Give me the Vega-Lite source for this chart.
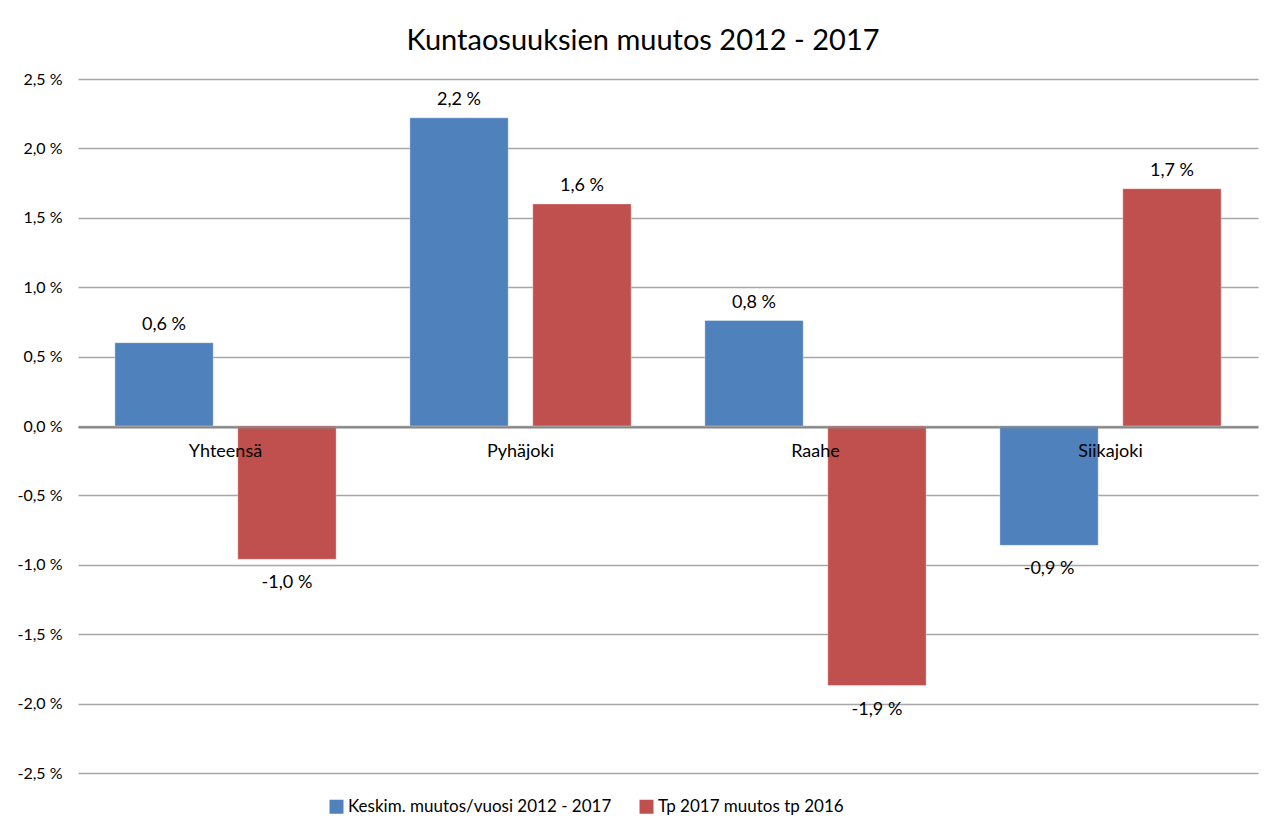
{
  "$schema": "https://vega.github.io/schema/vega-lite/v6.json",
  "width": 1180,
  "height": 694,
  "autosize": {"type": "none"},
  "padding": {"left": 78, "top": 79, "right": 22, "bottom": 61},
  "background": "white",
  "config": {
    "locale": {"number": {"decimal": ",", "thousands": " ", "grouping": [3], "currency": ["", " €"], "percent": " %", "minus": "-"}},
    "view": {"stroke": null},
    "font": "Lato"
  },
  "title": {
    "text": "Kuntaosuuksien muutos 2012 - 2017",
    "font": "Lato",
    "fontSize": 29,
    "fontWeight": "normal",
    "color": "#000000",
    "anchor": "middle",
    "offset": 15,
    "dx": -25
  },
  "data": {
    "values": [
      {"kunta": "Yhteensä", "sarja": "Keskim. muutos/vuosi 2012 - 2017", "arvo": 0.0060},
      {"kunta": "Yhteensä", "sarja": "Tp 2017 muutos tp 2016", "arvo": -0.0096},
      {"kunta": "Pyhäjoki", "sarja": "Keskim. muutos/vuosi 2012 - 2017", "arvo": 0.0222},
      {"kunta": "Pyhäjoki", "sarja": "Tp 2017 muutos tp 2016", "arvo": 0.0160},
      {"kunta": "Raahe", "sarja": "Keskim. muutos/vuosi 2012 - 2017", "arvo": 0.0076},
      {"kunta": "Raahe", "sarja": "Tp 2017 muutos tp 2016", "arvo": -0.0187},
      {"kunta": "Siikajoki", "sarja": "Keskim. muutos/vuosi 2012 - 2017", "arvo": -0.0086},
      {"kunta": "Siikajoki", "sarja": "Tp 2017 muutos tp 2016", "arvo": 0.0171}
    ]
  },
  "encoding": {
    "x": {
      "field": "kunta",
      "type": "nominal",
      "sort": null,
      "scale": {"paddingInner": 0, "paddingOuter": 0},
      "axis": {
        "orient": "bottom",
        "offset": -346,
        "title": null,
        "labelAngle": 0,
        "labelFontSize": 18,
        "labelColor": "#000000",
        "labelPadding": 15,
        "ticks": false,
        "domainColor": "#868686",
        "domainWidth": 2,
        "zindex": 1
      }
    },
    "xOffset": {
      "field": "sarja",
      "type": "nominal",
      "sort": null,
      "scale": {"paddingInner": 0.2, "paddingOuter": 0.3}
    },
    "y": {
      "field": "arvo",
      "type": "quantitative",
      "scale": {"domain": [-0.025, 0.025], "nice": false},
      "axis": {
        "title": null,
        "values": [-0.025, -0.02, -0.015, -0.01, -0.005, 0, 0.005, 0.01, 0.015, 0.02, 0.025],
        "format": ".1%",
        "labelFontSize": 16,
        "labelColor": "#000000",
        "labelPadding": 16,
        "ticks": false,
        "domain": false,
        "gridColor": "#a6a6a6",
        "gridWidth": 1.5
      }
    }
  },
  "layer": [
    {
      "mark": {"type": "bar", "stroke": "#ffffff", "strokeOpacity": 0.35, "strokeWidth": 1},
      "encoding": {
        "color": {
          "field": "sarja",
          "type": "nominal",
          "sort": null,
          "scale": {"range": ["#4F81BD", "#C0504D"]},
          "legend": {
            "title": null,
            "orient": "none",
            "direction": "horizontal",
            "legendX": 250,
            "legendY": 719,
            "symbolType": "square",
            "symbolSize": 196,
            "symbolStrokeWidth": 0,
            "symbolOpacity": 1,
            "labelFontSize": 17,
            "labelColor": "#000000",
            "labelOffset": 3,
            "labelLimit": 0,
            "columnPadding": 26
          }
        }
      }
    },
    {
      "transform": [{"filter": "datum.arvo >= 0"}],
      "mark": {"type": "text", "baseline": "bottom", "dy": -9, "fontSize": 18, "color": "#000000"},
      "encoding": {"text": {"field": "arvo", "type": "quantitative", "format": ".1%"}}
    },
    {
      "transform": [{"filter": "datum.arvo < 0"}],
      "mark": {"type": "text", "baseline": "top", "dy": 15, "fontSize": 18, "color": "#000000"},
      "encoding": {"text": {"field": "arvo", "type": "quantitative", "format": ".1%"}}
    }
  ]
}
